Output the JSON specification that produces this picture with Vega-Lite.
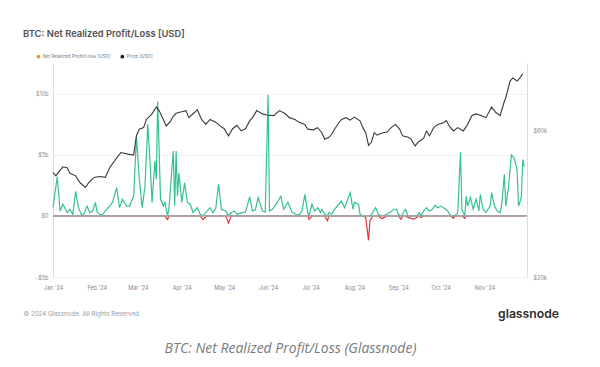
{
  "$schema": "https://vega.github.io/schema/vega-lite/v6.json",
  "width": 474,
  "height": 214,
  "autosize": {"type": "none"},
  "padding": {"left": 53, "top": 63, "right": 73, "bottom": 90},
  "background": "white",
  "config": {
    "view": {"stroke": null},
    "font": "Inter",
    "axis": {"labelFont": "Inter", "titleFont": "Inter"}
  },
  "title": {
    "text": "BTC: Net Realized Profit/Loss [USD]",
    "anchor": "start",
    "frame": "group",
    "dx": -30,
    "offset": 15,
    "fontSize": 9.4,
    "fontWeight": 600,
    "color": "#505050",
    "font": "Inter"
  },
  "datasets": {
    "pnl": [
      {"date": "2024-01-01", "pnl_bn": 0.7},
      {"date": "2024-01-04", "pnl_bn": 3.2},
      {"date": "2024-01-06", "pnl_bn": 0.4},
      {"date": "2024-01-08", "pnl_bn": 0.95},
      {"date": "2024-01-11", "pnl_bn": 0.27},
      {"date": "2024-01-13", "pnl_bn": 0.54},
      {"date": "2024-01-15", "pnl_bn": 0.1},
      {"date": "2024-01-17", "pnl_bn": 2.0},
      {"date": "2024-01-19", "pnl_bn": 0.67},
      {"date": "2024-01-21", "pnl_bn": 0.13},
      {"date": "2024-01-23", "pnl_bn": 0.15},
      {"date": "2024-01-25", "pnl_bn": 0.8},
      {"date": "2024-01-27", "pnl_bn": 0.27},
      {"date": "2024-01-29", "pnl_bn": 0.4},
      {"date": "2024-01-31", "pnl_bn": 1.1},
      {"date": "2024-02-01", "pnl_bn": 0.4},
      {"date": "2024-02-03", "pnl_bn": 0.13},
      {"date": "2024-02-05", "pnl_bn": 0.1},
      {"date": "2024-02-07", "pnl_bn": 0.4},
      {"date": "2024-02-10", "pnl_bn": 0.8},
      {"date": "2024-02-12", "pnl_bn": 1.1},
      {"date": "2024-02-15", "pnl_bn": 2.3},
      {"date": "2024-02-17", "pnl_bn": 0.67},
      {"date": "2024-02-19", "pnl_bn": 1.35},
      {"date": "2024-02-22", "pnl_bn": 0.8},
      {"date": "2024-02-24", "pnl_bn": 0.8},
      {"date": "2024-02-27", "pnl_bn": 1.6},
      {"date": "2024-02-29", "pnl_bn": 6.45},
      {"date": "2024-03-02", "pnl_bn": 3.0},
      {"date": "2024-03-04", "pnl_bn": 0.67},
      {"date": "2024-03-06", "pnl_bn": 2.4},
      {"date": "2024-03-08", "pnl_bn": 7.5},
      {"date": "2024-03-10", "pnl_bn": 3.5},
      {"date": "2024-03-11", "pnl_bn": 1.1},
      {"date": "2024-03-13", "pnl_bn": 4.5},
      {"date": "2024-03-14", "pnl_bn": 3.0},
      {"date": "2024-03-15", "pnl_bn": 9.35},
      {"date": "2024-03-17", "pnl_bn": 1.35},
      {"date": "2024-03-19", "pnl_bn": 0.8},
      {"date": "2024-03-20", "pnl_bn": 1.1},
      {"date": "2024-03-22", "pnl_bn": -0.3},
      {"date": "2024-03-23", "pnl_bn": 0.67},
      {"date": "2024-03-26", "pnl_bn": 5.3},
      {"date": "2024-03-27", "pnl_bn": 0.8},
      {"date": "2024-03-28", "pnl_bn": 5.3},
      {"date": "2024-03-29", "pnl_bn": 1.6},
      {"date": "2024-03-30", "pnl_bn": 3.5},
      {"date": "2024-04-01", "pnl_bn": 1.1},
      {"date": "2024-04-03", "pnl_bn": 2.7},
      {"date": "2024-04-05", "pnl_bn": 1.1},
      {"date": "2024-04-07", "pnl_bn": 0.95},
      {"date": "2024-04-09", "pnl_bn": 0.27},
      {"date": "2024-04-12", "pnl_bn": 0.67},
      {"date": "2024-04-14", "pnl_bn": 0.13},
      {"date": "2024-04-16", "pnl_bn": -0.3},
      {"date": "2024-04-19", "pnl_bn": 0.4},
      {"date": "2024-04-21", "pnl_bn": 0.67},
      {"date": "2024-04-23", "pnl_bn": 0.27},
      {"date": "2024-04-25", "pnl_bn": 0.6},
      {"date": "2024-04-27", "pnl_bn": 2.6},
      {"date": "2024-04-29", "pnl_bn": 0.54},
      {"date": "2024-05-02", "pnl_bn": 0.4},
      {"date": "2024-05-04", "pnl_bn": -0.6},
      {"date": "2024-05-06", "pnl_bn": 0.27},
      {"date": "2024-05-08", "pnl_bn": 0.4},
      {"date": "2024-05-10", "pnl_bn": 0.13},
      {"date": "2024-05-12", "pnl_bn": 0.2},
      {"date": "2024-05-14", "pnl_bn": 0.27},
      {"date": "2024-05-16", "pnl_bn": 0.3},
      {"date": "2024-05-19", "pnl_bn": 1.55},
      {"date": "2024-05-21", "pnl_bn": 0.4},
      {"date": "2024-05-23", "pnl_bn": 0.5},
      {"date": "2024-05-25", "pnl_bn": 1.5},
      {"date": "2024-05-28", "pnl_bn": 0.4},
      {"date": "2024-05-30", "pnl_bn": 0.3},
      {"date": "2024-06-01", "pnl_bn": 9.9},
      {"date": "2024-06-02", "pnl_bn": 0.4},
      {"date": "2024-06-04", "pnl_bn": 0.54},
      {"date": "2024-06-07", "pnl_bn": 1.0},
      {"date": "2024-06-10", "pnl_bn": 1.6},
      {"date": "2024-06-12", "pnl_bn": 0.54},
      {"date": "2024-06-15", "pnl_bn": 1.1},
      {"date": "2024-06-18", "pnl_bn": 0.27},
      {"date": "2024-06-21", "pnl_bn": 0.13},
      {"date": "2024-06-23", "pnl_bn": 0.08},
      {"date": "2024-06-25", "pnl_bn": 0.4},
      {"date": "2024-06-27", "pnl_bn": 1.75},
      {"date": "2024-06-29", "pnl_bn": 0.27},
      {"date": "2024-06-30", "pnl_bn": -0.3},
      {"date": "2024-07-02", "pnl_bn": 0.95},
      {"date": "2024-07-04", "pnl_bn": 0.4},
      {"date": "2024-07-06", "pnl_bn": 0.67},
      {"date": "2024-07-08", "pnl_bn": 0.27},
      {"date": "2024-07-09", "pnl_bn": 0.54},
      {"date": "2024-07-11", "pnl_bn": 0.13},
      {"date": "2024-07-13", "pnl_bn": -0.4},
      {"date": "2024-07-14", "pnl_bn": 0.27},
      {"date": "2024-07-16", "pnl_bn": 0.13},
      {"date": "2024-07-18", "pnl_bn": 0.54},
      {"date": "2024-07-21", "pnl_bn": 0.95},
      {"date": "2024-07-23", "pnl_bn": 1.2},
      {"date": "2024-07-25", "pnl_bn": 0.67},
      {"date": "2024-07-26", "pnl_bn": 0.95},
      {"date": "2024-07-29", "pnl_bn": 1.9},
      {"date": "2024-07-31", "pnl_bn": 0.54},
      {"date": "2024-08-01", "pnl_bn": 1.1},
      {"date": "2024-08-04", "pnl_bn": 0.95},
      {"date": "2024-08-05", "pnl_bn": 0.13},
      {"date": "2024-08-07", "pnl_bn": 0.0},
      {"date": "2024-08-09", "pnl_bn": -0.13},
      {"date": "2024-08-11", "pnl_bn": -2.0},
      {"date": "2024-08-12", "pnl_bn": -0.4},
      {"date": "2024-08-14", "pnl_bn": 0.27},
      {"date": "2024-08-16", "pnl_bn": 0.67},
      {"date": "2024-08-18", "pnl_bn": 0.13},
      {"date": "2024-08-20", "pnl_bn": -0.2},
      {"date": "2024-08-21", "pnl_bn": -0.2},
      {"date": "2024-08-24", "pnl_bn": 0.13},
      {"date": "2024-08-26", "pnl_bn": 0.27},
      {"date": "2024-08-29", "pnl_bn": 0.54},
      {"date": "2024-08-31", "pnl_bn": 0.54},
      {"date": "2024-09-01", "pnl_bn": 0.13},
      {"date": "2024-09-03", "pnl_bn": -0.27},
      {"date": "2024-09-04", "pnl_bn": 0.13},
      {"date": "2024-09-06", "pnl_bn": 0.54},
      {"date": "2024-09-08", "pnl_bn": -0.13},
      {"date": "2024-09-10", "pnl_bn": -0.2},
      {"date": "2024-09-12", "pnl_bn": -0.27},
      {"date": "2024-09-14", "pnl_bn": -0.13},
      {"date": "2024-09-16", "pnl_bn": 0.27},
      {"date": "2024-09-17", "pnl_bn": -0.13},
      {"date": "2024-09-19", "pnl_bn": 0.4},
      {"date": "2024-09-21", "pnl_bn": 0.67},
      {"date": "2024-09-23", "pnl_bn": 0.4},
      {"date": "2024-09-25", "pnl_bn": 0.54},
      {"date": "2024-09-27", "pnl_bn": 0.85},
      {"date": "2024-09-29", "pnl_bn": 0.67},
      {"date": "2024-10-01", "pnl_bn": 0.8},
      {"date": "2024-10-03", "pnl_bn": 0.67},
      {"date": "2024-10-06", "pnl_bn": 0.4},
      {"date": "2024-10-08", "pnl_bn": 0.0},
      {"date": "2024-10-10", "pnl_bn": -0.2},
      {"date": "2024-10-11", "pnl_bn": 0.05},
      {"date": "2024-10-13", "pnl_bn": 0.2},
      {"date": "2024-10-15", "pnl_bn": 5.2},
      {"date": "2024-10-16", "pnl_bn": 0.54},
      {"date": "2024-10-18", "pnl_bn": -0.2},
      {"date": "2024-10-19", "pnl_bn": 1.6},
      {"date": "2024-10-20", "pnl_bn": 0.8},
      {"date": "2024-10-22", "pnl_bn": 1.5},
      {"date": "2024-10-24", "pnl_bn": 0.54},
      {"date": "2024-10-26", "pnl_bn": 1.35},
      {"date": "2024-10-28", "pnl_bn": 0.4},
      {"date": "2024-10-29", "pnl_bn": 1.75},
      {"date": "2024-10-31", "pnl_bn": 0.54},
      {"date": "2024-11-02", "pnl_bn": 0.27},
      {"date": "2024-11-05", "pnl_bn": 0.8},
      {"date": "2024-11-06", "pnl_bn": 1.9},
      {"date": "2024-11-08", "pnl_bn": 0.8},
      {"date": "2024-11-10", "pnl_bn": 0.4},
      {"date": "2024-11-12", "pnl_bn": 0.27},
      {"date": "2024-11-13", "pnl_bn": 0.8},
      {"date": "2024-11-15", "pnl_bn": 3.4},
      {"date": "2024-11-16", "pnl_bn": 0.8},
      {"date": "2024-11-18", "pnl_bn": 2.4},
      {"date": "2024-11-20", "pnl_bn": 5.0},
      {"date": "2024-11-22", "pnl_bn": 4.7},
      {"date": "2024-11-24", "pnl_bn": 3.8},
      {"date": "2024-11-25", "pnl_bn": 0.8},
      {"date": "2024-11-27", "pnl_bn": 1.5},
      {"date": "2024-11-28", "pnl_bn": 4.6},
      {"date": "2024-11-29", "pnl_bn": 4.0}
    ],
    "price": [
      {"date": "2024-01-01", "price": 43900},
      {"date": "2024-01-03", "price": 42800},
      {"date": "2024-01-05", "price": 44000},
      {"date": "2024-01-08", "price": 45800},
      {"date": "2024-01-11", "price": 45500},
      {"date": "2024-01-13", "price": 43600},
      {"date": "2024-01-17", "price": 42800},
      {"date": "2024-01-20", "price": 40700},
      {"date": "2024-01-24", "price": 39200},
      {"date": "2024-01-26", "price": 40500},
      {"date": "2024-01-30", "price": 42300},
      {"date": "2024-02-03", "price": 42600},
      {"date": "2024-02-07", "price": 42300},
      {"date": "2024-02-10", "price": 45500},
      {"date": "2024-02-15", "price": 49000},
      {"date": "2024-02-18", "price": 51000},
      {"date": "2024-02-23", "price": 50400},
      {"date": "2024-02-27", "price": 50000},
      {"date": "2024-02-29", "price": 58000},
      {"date": "2024-03-02", "price": 60800},
      {"date": "2024-03-05", "price": 61500},
      {"date": "2024-03-07", "price": 65400},
      {"date": "2024-03-11", "price": 68200},
      {"date": "2024-03-14", "price": 71800},
      {"date": "2024-03-16", "price": 69900},
      {"date": "2024-03-19", "price": 65400},
      {"date": "2024-03-21", "price": 62300},
      {"date": "2024-03-24", "price": 64500},
      {"date": "2024-03-26", "price": 67000},
      {"date": "2024-03-28", "price": 68500},
      {"date": "2024-04-01", "price": 69300},
      {"date": "2024-04-04", "price": 69900},
      {"date": "2024-04-06", "price": 66300},
      {"date": "2024-04-10", "price": 68900},
      {"date": "2024-04-12", "price": 70400},
      {"date": "2024-04-15", "price": 65400},
      {"date": "2024-04-18", "price": 63000},
      {"date": "2024-04-21", "price": 65400},
      {"date": "2024-04-25", "price": 64100},
      {"date": "2024-04-28", "price": 62300},
      {"date": "2024-05-01", "price": 61000},
      {"date": "2024-05-04", "price": 57800},
      {"date": "2024-05-07", "price": 61000},
      {"date": "2024-05-10", "price": 62600},
      {"date": "2024-05-13", "price": 60000},
      {"date": "2024-05-16", "price": 61000},
      {"date": "2024-05-19", "price": 64700},
      {"date": "2024-05-21", "price": 66300},
      {"date": "2024-05-24", "price": 69900},
      {"date": "2024-05-28", "price": 68200},
      {"date": "2024-05-31", "price": 67600},
      {"date": "2024-06-05", "price": 67300},
      {"date": "2024-06-09", "price": 69900},
      {"date": "2024-06-13", "price": 68400},
      {"date": "2024-06-16", "price": 66300},
      {"date": "2024-06-20", "price": 65400},
      {"date": "2024-06-23", "price": 64000},
      {"date": "2024-06-27", "price": 63000},
      {"date": "2024-06-29", "price": 60800},
      {"date": "2024-07-03", "price": 60500},
      {"date": "2024-07-06", "price": 61500},
      {"date": "2024-07-09", "price": 59200},
      {"date": "2024-07-11", "price": 56400},
      {"date": "2024-07-14", "price": 57200},
      {"date": "2024-07-16", "price": 58500},
      {"date": "2024-07-18", "price": 60800},
      {"date": "2024-07-21", "price": 63800},
      {"date": "2024-07-23", "price": 65400},
      {"date": "2024-07-26", "price": 66300},
      {"date": "2024-07-29", "price": 65100},
      {"date": "2024-08-01", "price": 66600},
      {"date": "2024-08-05", "price": 64700},
      {"date": "2024-08-07", "price": 61500},
      {"date": "2024-08-09", "price": 59200},
      {"date": "2024-08-11", "price": 53800},
      {"date": "2024-08-13", "price": 55100},
      {"date": "2024-08-15", "price": 59200},
      {"date": "2024-08-17", "price": 58100},
      {"date": "2024-08-20", "price": 59000},
      {"date": "2024-08-24", "price": 59500},
      {"date": "2024-08-27", "price": 61500},
      {"date": "2024-08-30", "price": 63000},
      {"date": "2024-09-02", "price": 60800},
      {"date": "2024-09-04", "price": 57800},
      {"date": "2024-09-08", "price": 57200},
      {"date": "2024-09-10", "price": 56400},
      {"date": "2024-09-13", "price": 53600},
      {"date": "2024-09-15", "price": 55100},
      {"date": "2024-09-19", "price": 56800},
      {"date": "2024-09-21", "price": 60000},
      {"date": "2024-09-23", "price": 57800},
      {"date": "2024-09-26", "price": 61500},
      {"date": "2024-09-29", "price": 63000},
      {"date": "2024-10-03", "price": 63800},
      {"date": "2024-10-05", "price": 64900},
      {"date": "2024-10-07", "price": 62300},
      {"date": "2024-10-10", "price": 60000},
      {"date": "2024-10-13", "price": 61500},
      {"date": "2024-10-17", "price": 60000},
      {"date": "2024-10-20", "price": 63000},
      {"date": "2024-10-23", "price": 67300},
      {"date": "2024-10-26", "price": 68200},
      {"date": "2024-10-30", "price": 67300},
      {"date": "2024-11-02", "price": 66300},
      {"date": "2024-11-06", "price": 71800},
      {"date": "2024-11-09", "price": 68900},
      {"date": "2024-11-12", "price": 67300},
      {"date": "2024-11-15", "price": 75000},
      {"date": "2024-11-16", "price": 77000},
      {"date": "2024-11-19", "price": 87300},
      {"date": "2024-11-21", "price": 89400},
      {"date": "2024-11-24", "price": 87300},
      {"date": "2024-11-26", "price": 89400},
      {"date": "2024-11-28", "price": 92200}
    ],
    "series": [
      {"series": "Net Realized Profit/Loss [USD]"},
      {"series": "Price [USD]"}
    ],
    "zero": [{"level_bn": 0}]
  },
  "layer": [
    {
      "layer": [
        {
          "data": {"name": "pnl"},
          "transform": [{"calculate": "min(datum.pnl_bn, 0)", "as": "loss_bn"}],
          "mark": {"type": "line", "color": "#e2363c", "strokeWidth": 1.2, "interpolate": "linear"},
          "encoding": {
            "x": {
              "field": "date",
              "type": "temporal",
              "scale": {
                "type": "utc",
                "domain": [
                  {"year": 2024, "month": 1, "date": 1, "utc": true},
                  {"year": 2024, "month": 12, "date": 1, "utc": true}
                ]
              },
              "axis": {
                "values": [
                  {"year": 2024, "month": 1, "date": 1, "utc": true},
                  {"year": 2024, "month": 2, "date": 1, "utc": true},
                  {"year": 2024, "month": 3, "date": 1, "utc": true},
                  {"year": 2024, "month": 4, "date": 1, "utc": true},
                  {"year": 2024, "month": 5, "date": 1, "utc": true},
                  {"year": 2024, "month": 6, "date": 1, "utc": true},
                  {"year": 2024, "month": 7, "date": 1, "utc": true},
                  {"year": 2024, "month": 8, "date": 1, "utc": true},
                  {"year": 2024, "month": 9, "date": 1, "utc": true},
                  {"year": 2024, "month": 10, "date": 1, "utc": true},
                  {"year": 2024, "month": 11, "date": 1, "utc": true}
                ],
                "format": "%b '%y",
                "labelFontSize": 5.5,
                "labelColor": "#888888",
                "labelPadding": 8,
                "labelFlush": false,
                "labelOverlap": false,
                "ticks": false,
                "domain": false,
                "grid": false,
                "title": "© 2024 Glassnode. All Rights Reserved.",
                "titleFontSize": 6.2,
                "titleFontWeight": "normal",
                "titleColor": "#9a9a9a",
                "titleAnchor": "start",
                "titleAlign": "left",
                "titleBaseline": "middle",
                "titleX": -30,
                "titleY": 36
              }
            },
            "y": {
              "field": "loss_bn",
              "type": "quantitative",
              "scale": {"domain": [-5, 12.5], "nice": false, "zero": false},
              "axis": {
                "orient": "left",
                "values": [-5, -2.5, 0, 2.5, 5, 7.5, 10, 12.5],
                "labelExpr": "datum.value === 0 ? '$0' : (datum.value % 5 !== 0 ? '' : (datum.value < 0 ? '-$' : '$') + abs(datum.value) + 'b')",
                "labelFontSize": 5.5,
                "labelColor": "#888888",
                "labelPadding": 5,
                "ticks": false,
                "domain": true,
                "domainColor": "#fcd7bd",
                "domainWidth": 1,
                "grid": true,
                "gridColor": "#f1f1f1",
                "gridWidth": 1,
                "title": "BTC: Net Realized Profit/Loss (Glassnode)",
                "titleAngle": 0,
                "titleX": 237,
                "titleY": 285,
                "titleAlign": "center",
                "titleBaseline": "middle",
                "titleFontSize": 14,
                "titleFontStyle": "italic",
                "titleFontWeight": "normal",
                "titleFont": "Open Sans",
                "titleColor": "#7a7a7a"
              }
            }
          }
        },
        {
          "data": {"name": "pnl"},
          "transform": [{"calculate": "max(datum.pnl_bn, 0)", "as": "profit_bn"}],
          "mark": {"type": "line", "color": "#36c28c", "strokeWidth": 1.2, "interpolate": "linear"},
          "encoding": {
            "x": {"field": "date", "type": "temporal"},
            "y": {"field": "profit_bn", "type": "quantitative"}
          }
        },
        {
          "data": {"name": "zero"},
          "mark": {"type": "rule", "color": "#a3a3a3", "strokeWidth": 1.6},
          "encoding": {"y": {"field": "level_bn", "type": "quantitative"}}
        },
        {
          "data": {"name": "series"},
          "mark": {"type": "point", "filled": true, "opacity": 0},
          "encoding": {
            "color": {
              "field": "series",
              "type": "nominal",
              "scale": {
                "domain": ["Net Realized Profit/Loss [USD]", "Price [USD]"],
                "range": ["#f7931a", "#1a1a1a"]
              },
              "legend": {
                "orient": "none",
                "legendX": -17,
                "legendY": -9,
                "direction": "horizontal",
                "title": null,
                "symbolType": "circle",
                "symbolSize": 14,
                "symbolOpacity": 1,
                "symbolStrokeWidth": 0,
                "labelFontSize": 4.7,
                "labelColor": "#777777",
                "labelOffset": 2,
                "columnPadding": 9,
                "padding": 0
              }
            }
          }
        }
      ]
    },
    {
      "data": {"name": "price"},
      "mark": {"type": "line", "color": "#3a3a3a", "strokeWidth": 1.1},
      "encoding": {
        "x": {"field": "date", "type": "temporal"},
        "y": {
          "field": "price",
          "type": "quantitative",
          "scale": {"type": "log", "domain": [20000, 100000], "nice": false},
          "axis": {
            "orient": "right",
            "values": [20000, 60000],
            "labelExpr": "'$' + datum.value / 1000 + 'k'",
            "labelFontSize": 5.5,
            "labelColor": "#888888",
            "labelPadding": 6,
            "ticks": false,
            "domain": true,
            "domainColor": "#dddddd",
            "grid": false,
            "title": "glassnode",
            "titleAngle": 0,
            "titleX": 1,
            "titleY": 250,
            "titleAlign": "center",
            "titleBaseline": "middle",
            "titleFontSize": 12.2,
            "titleFontWeight": 600,
            "titleColor": "#2e2e2e"
          }
        }
      }
    }
  ],
  "resolve": {"scale": {"y": "independent"}}
}
